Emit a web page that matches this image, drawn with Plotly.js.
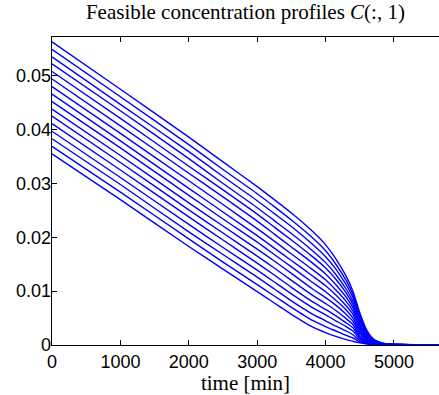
<!DOCTYPE html>
<html>
<head>
<meta charset="utf-8">
<script src="https://cdn.plot.ly/plotly-3.0.1.min.js"></script>
<style>html,body{margin:0;padding:0;background:#fff;}#chart{width:439px;height:395px;}</style>
</head>
<body>
<div id="chart"></div>
<script>
// time axis [min]
var time = [0, 1000, 2000, 2500, 3000, 3250, 3500, 3800, 4000, 4150, 4300, 4400, 4500, 4600, 4700, 4850, 5100, 5700];

// feasible concentration profiles C(:,1), lowest to highest
var c01 = [0.0355, 0.0270, 0.0183, 0.0141, 0.0099, 0.0078, 0.0057, 0.0034, 0.0023, 0.0016, 0.0010, 0.0007, 0.0004, 0.00020, 0.00010, 0.00005, 0.00002, 0.00001];
var c02 = [0.0369, 0.0284, 0.0197, 0.0154, 0.0112, 0.0091, 0.0070, 0.0046, 0.0034, 0.0026, 0.0018, 0.0013, 0.0006, 0.00023, 0.00011, 0.00006, 0.00003, 0.00001];
var c03 = [0.0383, 0.0298, 0.0210, 0.0168, 0.0126, 0.0104, 0.0082, 0.0058, 0.0045, 0.0035, 0.0026, 0.0019, 0.0008, 0.00030, 0.00014, 0.00007, 0.00003, 0.00001];
var c04 = [0.0397, 0.0311, 0.0224, 0.0181, 0.0139, 0.0117, 0.0095, 0.0070, 0.0056, 0.0045, 0.0034, 0.0026, 0.0011, 0.00040, 0.00018, 0.00008, 0.00004, 0.00001];
var c05 = [0.0411, 0.0325, 0.0238, 0.0195, 0.0152, 0.0130, 0.0107, 0.0081, 0.0066, 0.0054, 0.0041, 0.0032, 0.0014, 0.00051, 0.00022, 0.00010, 0.00004, 0.00002];
var c06 = [0.0425, 0.0339, 0.0251, 0.0208, 0.0165, 0.0143, 0.0120, 0.0093, 0.0077, 0.0064, 0.0049, 0.0038, 0.0017, 0.00065, 0.00027, 0.00011, 0.00005, 0.00002];
var c07 = [0.0438, 0.0352, 0.0264, 0.0221, 0.0178, 0.0156, 0.0133, 0.0105, 0.0088, 0.0074, 0.0057, 0.0044, 0.0021, 0.00080, 0.00033, 0.00013, 0.00005, 0.00002];
var c08 = [0.0452, 0.0366, 0.0278, 0.0234, 0.0191, 0.0168, 0.0145, 0.0117, 0.0099, 0.0083, 0.0065, 0.0050, 0.0025, 0.00097, 0.00040, 0.00015, 0.00006, 0.00002];
var c09 = [0.0466, 0.0379, 0.0291, 0.0247, 0.0203, 0.0180, 0.0157, 0.0129, 0.0110, 0.0093, 0.0073, 0.0057, 0.0029, 0.00115, 0.00047, 0.00016, 0.00006, 0.00002];
var c10 = [0.0480, 0.0393, 0.0305, 0.0261, 0.0216, 0.0193, 0.0169, 0.0141, 0.0121, 0.0102, 0.0081, 0.0063, 0.0033, 0.00135, 0.00054, 0.00018, 0.00007, 0.00002];
var c11 = [0.0494, 0.0407, 0.0319, 0.0275, 0.0230, 0.0206, 0.0182, 0.0153, 0.0132, 0.0112, 0.0089, 0.0069, 0.0037, 0.00156, 0.00062, 0.00020, 0.00007, 0.00002];
var c12 = [0.0508, 0.0421, 0.0332, 0.0288, 0.0243, 0.0219, 0.0195, 0.0165, 0.0143, 0.0122, 0.0097, 0.0075, 0.0041, 0.00178, 0.00071, 0.00022, 0.00008, 0.00003];
var c13 = [0.0522, 0.0435, 0.0346, 0.0300, 0.0255, 0.0231, 0.0207, 0.0176, 0.0153, 0.0131, 0.0104, 0.0081, 0.0046, 0.00202, 0.00080, 0.00024, 0.00008, 0.00003];
var c14 = [0.0535, 0.0447, 0.0359, 0.0313, 0.0268, 0.0244, 0.0220, 0.0188, 0.0164, 0.0141, 0.0112, 0.0088, 0.0050, 0.00227, 0.00090, 0.00026, 0.00009, 0.00003];
var c15 = [0.0549, 0.0461, 0.0372, 0.0326, 0.0281, 0.0257, 0.0232, 0.0200, 0.0175, 0.0150, 0.0120, 0.0094, 0.0055, 0.00253, 0.00100, 0.00028, 0.00009, 0.00003];
var c16 = [0.0563, 0.0475, 0.0386, 0.0340, 0.0294, 0.0270, 0.0245, 0.0212, 0.0186, 0.0160, 0.0128, 0.0100, 0.0060, 0.00280, 0.00110, 0.00030, 0.00010, 0.00003];

var xTicks = [0, 1000, 2000, 3000, 4000, 5000];
var xTickText = ['0', '1000', '2000', '3000', '4000', '5000'];
var yTicks = [0, 0.01, 0.02, 0.03, 0.04, 0.05];
var yTickText = ['0', '0.01', '0.02', '0.03', '0.04', '0.05'];

var profiles = [c01, c02, c03, c04, c05, c06, c07, c08, c09, c10, c11, c12, c13, c14, c15, c16];
var traces = profiles.map(function (c) {
  return {
    x: time, y: c, type: 'scatter', mode: 'lines',
    line: {color: '#0000ff', width: 1.4, shape: 'spline', smoothing: 0.6},
    hoverinfo: 'skip', showlegend: false
  };
});

var sans = 'Liberation Sans, Arial, Helvetica, sans-serif';
var serif = 'Liberation Serif, Times New Roman, serif';

var layout = {
  width: 439, height: 395,
  margin: {l: 52, r: 0, t: 37, b: 50, pad: 0},
  paper_bgcolor: '#ffffff', plot_bgcolor: '#ffffff',
  showlegend: false,
  title: {
    text: 'Feasible concentration profiles <i>C</i>(:, 1)',
    font: {family: serif, size: 21, color: '#000'},
    x: 0.559, xanchor: 'center', y: 0.988, yanchor: 'top'
  },
  xaxis: {
    range: [0, 5658], tickvals: xTicks, ticktext: xTickText,
    ticks: 'inside', ticklen: 5, tickcolor: '#000', tickwidth: 1,
    showline: true, linecolor: '#000', linewidth: 1.3, mirror: 'ticks',
    showgrid: false, zeroline: false,
    tickfont: {family: sans, size: 18, color: '#000'},
    title: {text: 'time [min]', font: {family: serif, size: 21, color: '#000'}, standoff: 1}
  },
  yaxis: {
    range: [0, 0.0572], tickvals: yTicks, ticktext: yTickText,
    ticks: 'inside', ticklen: 5, tickcolor: '#000', tickwidth: 1,
    showline: true, linecolor: '#000', linewidth: 1.3, mirror: false,
    showgrid: false, zeroline: false, ticklabelstandoff: -4,
    tickfont: {family: sans, size: 18, color: '#000'}
  }
};

Plotly.newPlot('chart', traces, layout, {staticPlot: true, displayModeBar: false});
</script>
</body>
</html>
